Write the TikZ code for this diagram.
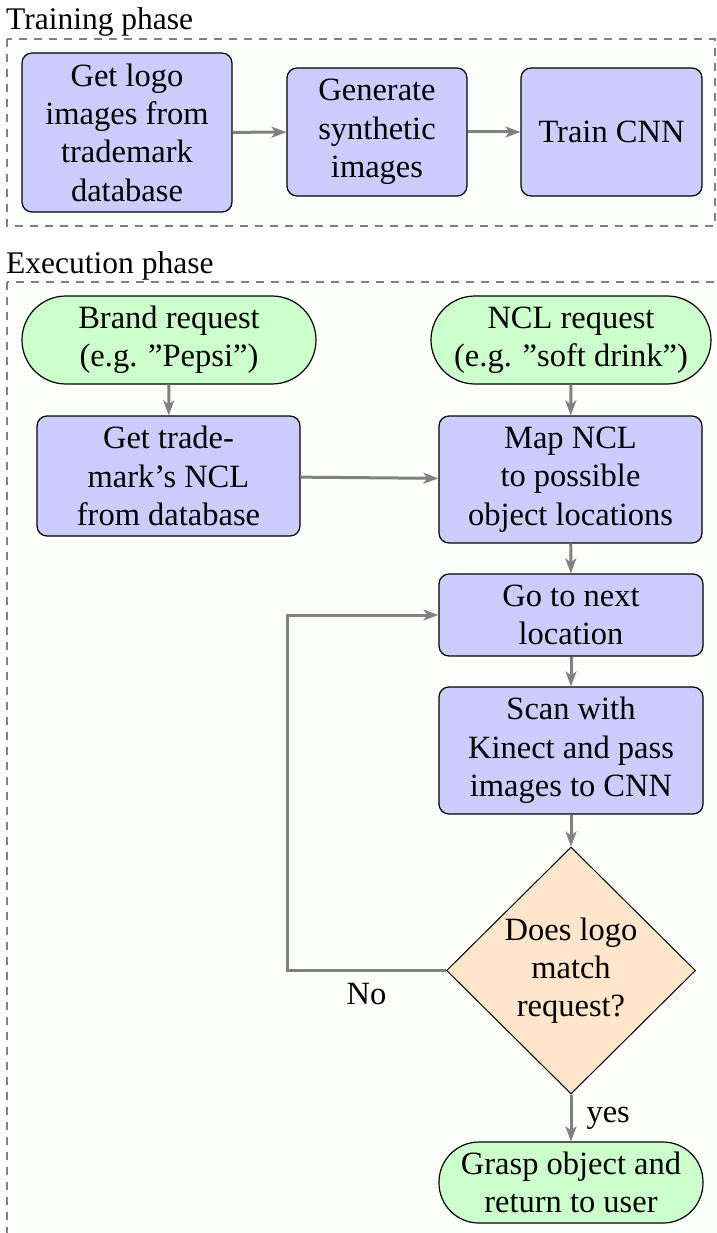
\documentclass[tikz,border=0pt]{standalone}
\usepackage{fontspec}
\setmainfont{Liberation Serif}
\usetikzlibrary{shapes.geometric,arrows.meta}

\definecolor{procfill}{RGB}{204,204,255}
\definecolor{termfill}{RGB}{204,255,204}
\definecolor{decfill}{RGB}{255,229,204}
\definecolor{panelbg}{RGB}{252,254,252}
\definecolor{flowgray}{RGB}{128,128,128}

\begin{document}
\begin{tikzpicture}[x=1pt,y=-1pt,
  font=\fontsize{32.5}{38.3}\selectfont,
  process/.style={draw=black, line width=1.2pt, fill=procfill,
    rounded corners=10pt, align=center, inner sep=4pt},
  terminal/.style={draw=black, line width=1.2pt, fill=termfill,
    rounded corners=#1, align=center, inner sep=4pt},
  terminal/.default=44pt,
  decision/.style={draw=black, line width=1pt, fill=decfill,
    diamond, align=center, inner sep=0pt},
  flow/.style={draw=flowgray, line width=3pt,
    -{Stealth[length=15pt,width=11pt,inset=4pt]}},
  panel/.style={draw=flowgray, line width=1.6pt,
    dash pattern=on 8pt off 7pt, fill=panelbg},
  phase/.style={anchor=base west, inner sep=0pt,
    font=\fontsize{31.5}{38}\selectfont},
]
\useasboundingbox (0,0) rectangle (716,1233);
\clip (0,0) rectangle (716,1233);
\fill[white] (0,0) rectangle (716,1233);

% phase panels
\draw[panel] (7,39) rectangle (715,226);
\draw[panel] (7,282) rectangle (740,1260);
\node[phase] (trainlbl) at (6,30) {Training phase};
\node[phase] (execlbl) at (6,273) {Execution phase};

% training steps
\node[process, minimum width=210pt, minimum height=159pt] (logos) at (127,132.5)
  {Get logo\\images from\\trademark\\database};
\node[process, minimum width=180pt, minimum height=128pt] (synth) at (377,132)
  {Generate\\synthetic\\images};
\node[process, minimum width=181pt, minimum height=128pt] (train) at (611.5,132)
  {Train CNN};

% execution steps
\node[terminal, minimum width=294pt, minimum height=88pt] (brand) at (169,340)
  {Brand request\\(e.g. ”Pepsi”)};
\node[terminal, minimum width=280pt, minimum height=88pt] (ncl) at (571,340)
  {NCL request\\(e.g. ”soft drink”)};
\node[process, minimum width=263pt, minimum height=120pt] (tmncl) at (168.5,476)
  {Get trade-\\mark’s NCL\\from database};
\node[process, minimum width=263pt, minimum height=127pt] (mapncl) at (570.5,479.5)
  {Map NCL\\to possible\\object locations};
\node[process, minimum width=264pt, minimum height=82pt] (next) at (571,615)
  {Go to next\\location};
\node[process, minimum width=264pt, minimum height=127pt] (scan) at (571,750.5)
  {Scan with\\Kinect and pass\\images to CNN};
\node[decision, minimum width=249pt, minimum height=247pt] (match) at (571,970.5)
  {Does logo\\match\\request?};
\node[terminal=40pt, minimum width=264pt, minimum height=81pt] (grasp) at (571,1182.5)
  {Grasp object and\\return to user};

% connectors
\draw[flow] (logos) -- (synth);
\draw[flow] (synth) -- (train);
\draw[flow] (brand) -- (tmncl);
\draw[flow] (ncl) -- (mapncl);
\draw[flow] (tmncl) -- (mapncl);
\draw[flow] (mapncl) -- (next);
\draw[flow] (next) -- (scan);
\draw[flow] (scan) -- (match);
\coordinate (loop) at (287,970.5);
\draw[flow] (match.west) -- node[below=11pt, inner sep=0pt] (nolbl) {No} (loop) |- (next.west);
\draw[flow] (match) -- node[right=14pt, inner sep=0pt] (yeslbl) {yes} (grasp);
\end{tikzpicture}
\end{document}
